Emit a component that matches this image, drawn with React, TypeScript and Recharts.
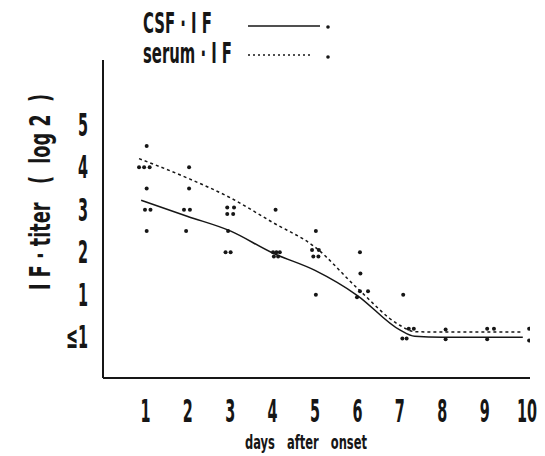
import { ComposedChart, Line, Scatter, XAxis, YAxis } from "recharts";

const days = [1, 2, 3, 4, 5, 6, 7, 8, 9, 10];
const titerTicks = [0, 1, 2, 3, 4, 5];
const titerLabels = ["≤1", "1", "2", "3", "4", "5"];

// fitted curves (day, log2 titer; 0 = "<1")
const csfLine = [
  { day: 0.9, v: 3.22 },
  { day: 2, v: 2.84 },
  { day: 3, v: 2.5 },
  { day: 4, v: 1.98 },
  { day: 5, v: 1.57 },
  { day: 6, v: 0.98 },
  { day: 7, v: 0.17 },
  { day: 7.35, v: 0.02 },
  { day: 8, v: 0 },
  { day: 9, v: 0 },
  { day: 9.9, v: 0 },
];

const serumLine = [
  { day: 0.85, v: 4.2 },
  { day: 2, v: 3.74 },
  { day: 3, v: 3.28 },
  { day: 4, v: 2.7 },
  { day: 5, v: 2.12 },
  { day: 6, v: 1.15 },
  { day: 7, v: 0.28 },
  { day: 7.35, v: 0.13 },
  { day: 8, v: 0.12 },
  { day: 9, v: 0.12 },
  { day: 9.9, v: 0.12 },
];

// individual patients
const patientDots = [
  { day: 1.03, v: 4.5 }, { day: 0.85, v: 4 }, { day: 0.97, v: 4 }, { day: 1.1, v: 4 },
  { day: 1.03, v: 3.5 }, { day: 0.99, v: 3 }, { day: 1.12, v: 3 }, { day: 1.03, v: 2.5 },
  { day: 2.03, v: 4 }, { day: 2.03, v: 3.5 }, { day: 1.91, v: 3 }, { day: 2.05, v: 3 },
  { day: 1.96, v: 2.5 },
  { day: 2.93, v: 3.05 }, { day: 3.09, v: 3.05 }, { day: 2.93, v: 2.9 }, { day: 3.07, v: 2.9 },
  { day: 2.95, v: 2.5 }, { day: 2.89, v: 2 }, { day: 3.01, v: 2 },
  { day: 4.07, v: 3 }, { day: 4.01, v: 2 }, { day: 4.09, v: 2 }, { day: 4.17, v: 2 },
  { day: 4.03, v: 1.9 }, { day: 4.13, v: 1.9 },
  { day: 5.02, v: 2.5 }, { day: 4.93, v: 2.05 }, { day: 5.09, v: 2.05 }, { day: 4.96, v: 1.9 },
  { day: 5.08, v: 1.9 }, { day: 5.02, v: 1 },
  { day: 6.06, v: 2 }, { day: 6.07, v: 1.5 }, { day: 6.06, v: 1.08 }, { day: 6.25, v: 1.08 },
  { day: 5.99, v: 0.94 },
  { day: 7.08, v: 1 }, { day: 7.21, v: 0.2 }, { day: 7.33, v: 0.2 }, { day: 7.06, v: -0.03 },
  { day: 7.16, v: -0.03 },
  { day: 8.08, v: 0.18 }, { day: 8.08, v: -0.05 },
  { day: 9.06, v: 0.2 }, { day: 9.22, v: 0.2 }, { day: 9.06, v: -0.05 },
  { day: 10.05, v: 0.2 }, { day: 10.05, v: -0.08 },
];

const ink = "#161616";
const font = "'DejaVu Sans Condensed', 'DejaVu Sans', sans-serif";

const XTick = ({ x, y, payload }: any) => (
  <text
    transform={`translate(${x},${y + 44}) scale(0.5,1)`}
    textAnchor="middle"
    fontFamily={font}
    fontWeight="bold"
    fontSize={32}
    fill={ink}
  >
    {payload.value}
  </text>
);

const YTick = ({ x, y, payload }: any) => (
  <text
    transform={`translate(${x - 15},${y + 11}) scale(0.5,1)`}
    textAnchor="end"
    fontFamily={font}
    fontWeight="bold"
    fontSize={32}
    fill={ink}
  >
    {titerLabels[titerTicks.indexOf(payload.value)]}
  </text>
);

const Dot = (props: any) => <circle cx={props.cx} cy={props.cy} r={2} fill={ink} />;

// legend is drawn on top of the chart, like the printed key
const LegendBox = () => (
  <svg width={545} height={70} style={{ position: "absolute", left: 0, top: 0 }}>
    <text x={143} y={33} textLength={69} lengthAdjust="spacingAndGlyphs" fontFamily={font} fontWeight="bold" fontSize={28} fill={ink} style={{ whiteSpace: "pre" }}>
      {"CSF · I F"}
    </text>
    <line x1={248} y1={26} x2={320} y2={26} stroke={ink} strokeWidth={1.5} />
    <circle cx={328} cy={27} r={1.8} fill={ink} />
    <text x={143} y={63} textLength={89} lengthAdjust="spacingAndGlyphs" fontFamily={font} fontWeight="bold" fontSize={28} fill={ink} style={{ whiteSpace: "pre" }}>
      {"serum · I F"}
    </text>
    <line x1={248} y1={55} x2={313} y2={55} stroke={ink} strokeWidth={1.5} strokeDasharray="2 3" />
    <circle cx={328} cy={57} r={1.8} fill={ink} />
  </svg>
);

export default function App() {
  return (
    <div style={{ position: "absolute", left: 0, top: 0, width: 545, height: 456, background: "#fff" }}>
      <ComposedChart width={545} height={456} margin={{ top: 60, right: 15, bottom: 0, left: 0 }}>
        <XAxis
          dataKey="day"
          type="number"
          domain={[0, 10.07]}
          ticks={days}
          allowDataOverflow
          height={78}
          tickSize={0}
          tickMargin={0}
          tick={<XTick />}
          axisLine={{ stroke: ink, strokeWidth: 2 }}
          label={{
            content: () => (
              <text x={245} y={449} textLength={122} lengthAdjust="spacingAndGlyphs" fontFamily={font} fontWeight="bold" fontSize={19} fill={ink} style={{ whiteSpace: "pre" }}>
                {"days   after   onset"}
              </text>
            ),
          }}
        />
        <YAxis
          dataKey="v"
          type="number"
          domain={[-0.96, 6.52]}
          ticks={titerTicks}
          allowDataOverflow
          width={103}
          tickSize={0}
          tickMargin={0}
          tick={<YTick />}
          axisLine={{ stroke: ink, strokeWidth: 2 }}
          label={{
            content: () => (
              <text
                transform="translate(50,290) rotate(-90)"
                textLength={196}
                lengthAdjust="spacingAndGlyphs"
                fontFamily={font}
                fontWeight="bold"
                fontSize={28}
                fill={ink}
                style={{ whiteSpace: "pre" }}
              >
                {"I F · titer   (  log 2  )"}
              </text>
            ),
          }}
        />
        <Line
          data={csfLine}
          dataKey="v"
          type="monotone"
          stroke={ink}
          strokeWidth={1.5}
          dot={false}
          isAnimationActive={false}
        />
        <Line
          data={serumLine}
          dataKey="v"
          type="monotone"
          stroke={ink}
          strokeWidth={1.5}
          strokeDasharray="3 3"
          dot={false}
          isAnimationActive={false}
        />
        <Scatter data={patientDots} dataKey="v" shape={<Dot />} isAnimationActive={false} />
      </ComposedChart>
      <LegendBox />
    </div>
  );
}
